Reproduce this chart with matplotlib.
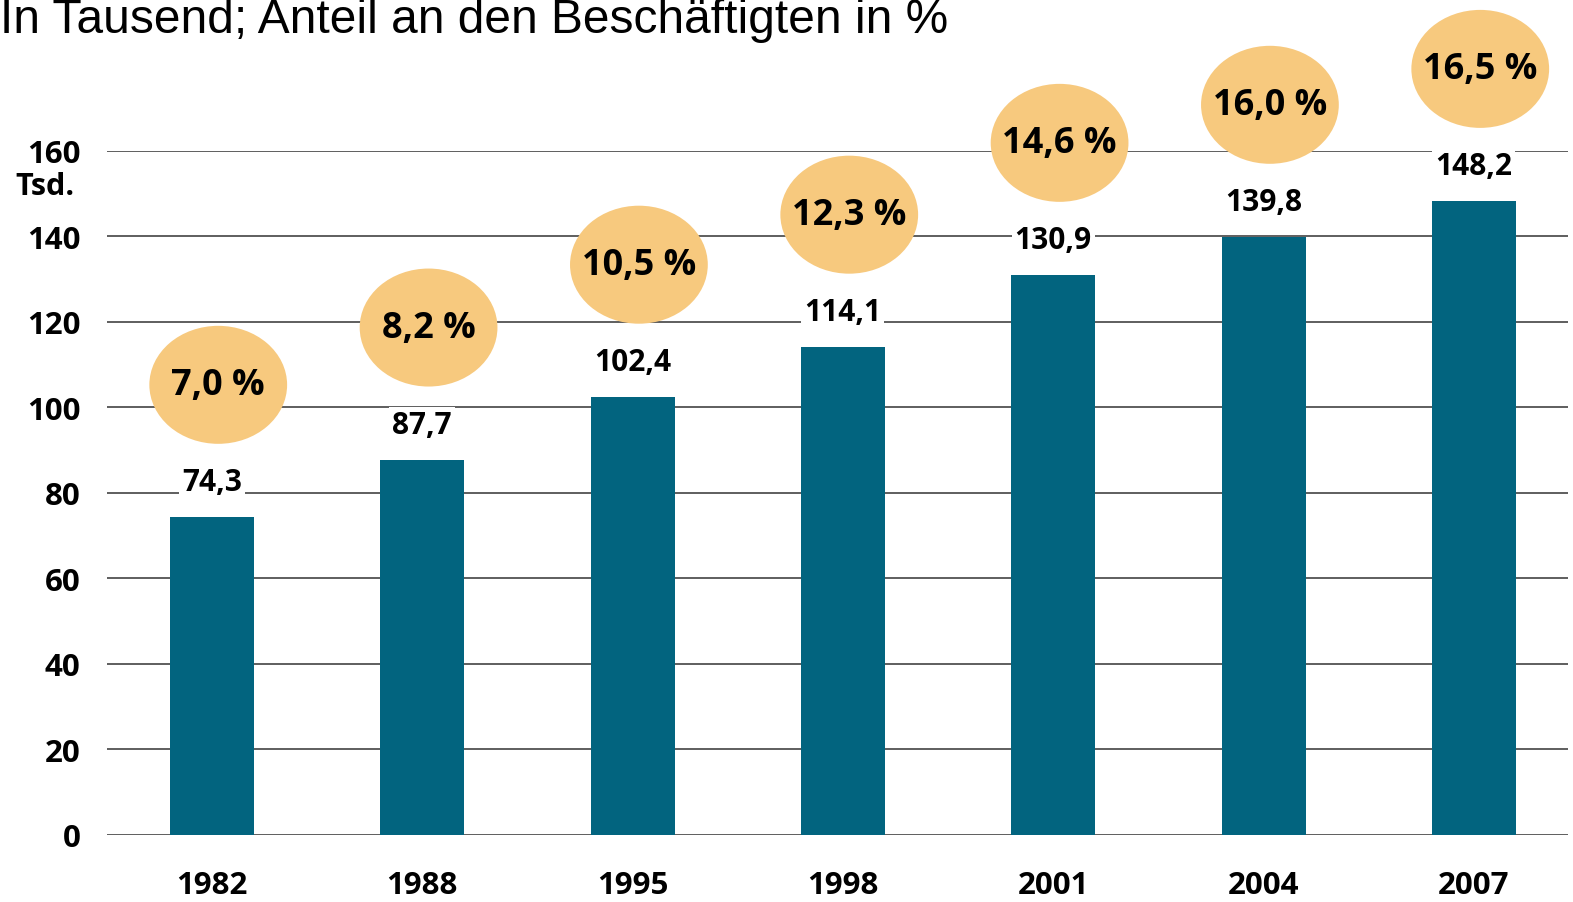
import matplotlib.pyplot as plt
from matplotlib.patches import Ellipse

years = ["1982", "1988", "1995", "1998", "2001", "2004", "2007"]
values = [74.3, 87.7, 102.4, 114.1, 130.9, 139.8, 148.2]
shares = [7.0, 8.2, 10.5, 12.3, 14.6, 16.0, 16.5]
yticks = [0, 20, 40, 60, 80, 100, 120, 140, 160]

BAR = "#02647F"
BUBBLE = "#F7C97E"
FONT = "Open Sans"


def de(v):
    return "{:.1f}".format(v).replace(".", ",")


fig = plt.figure(figsize=(15.73, 9.03), dpi=100)
ax = fig.add_axes([0.068, 0.0742, 0.9288, 0.7575])

x = list(range(len(years)))
ax.bar(x, values, width=0.4, color=BAR, zorder=2)

ax.set_xlim(-0.499, 6.447)
ax.set_ylim(0, 160)
ax.set_yticks(yticks)
ax.set_yticklabels([str(t) for t in yticks])
ax.set_xticks(x)
ax.set_xticklabels(years)
for lab in ax.get_yticklabels() + ax.get_xticklabels():
    lab.set_fontfamily(FONT)
    lab.set_fontweight("bold")
    lab.set_fontsize(22.5)
ax.tick_params(axis="y", length=0, pad=19)
ax.tick_params(axis="x", length=0, pad=25)
for s in ax.spines.values():
    s.set_visible(False)
ax.grid(axis="y", color="#333333", lw=1.1, zorder=1)
ax.set_axisbelow(True)

for i, (v, p) in enumerate(zip(values, shares)):
    ax.annotate(de(v), xy=(i, v), xytext=(0, 25.5), textcoords="offset points",
                ha="center", va="center", fontsize=21.5, fontweight="bold",
                family=FONT, zorder=4,
                bbox=dict(boxstyle="square,pad=0.1", fc="white", ec="none"))
    e = Ellipse((i + 0.03, v + 31), width=0.655, height=27.6, fc=BUBBLE,
                ec="none", zorder=3, clip_on=False)
    ax.add_patch(e)
    ax.text(i + 0.03, v + 31, de(p) + " %", ha="center", va="center",
            fontsize=26, fontweight="bold", family=FONT, zorder=5, clip_on=False)

fig.text(15 / 1573, 1 - 187 / 903, "Tsd.", ha="left", va="center", fontsize=22,
         fontweight="bold", family=FONT)
fig.text(0, 1 - 33 / 903, "In Tausend; Anteil an den Beschäftigten in %",
         ha="left", va="baseline", fontsize=34.5, family="Liberation Sans")

fig.savefig("out.png", dpi=100)
